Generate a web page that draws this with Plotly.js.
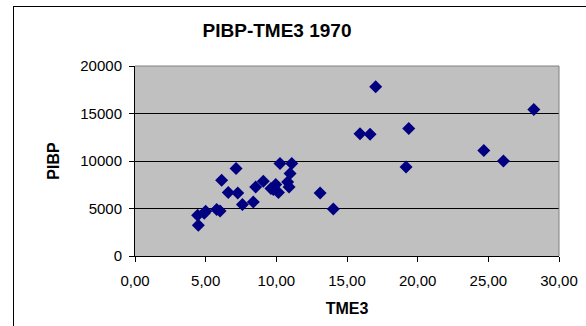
<!DOCTYPE html>
<html>
<head>
<meta charset="utf-8">
<script src="https://cdn.plot.ly/plotly-3.0.1.min.js"></script>
<style>
html,body{margin:0;padding:0;background:#fff;overflow:hidden;}
#chart{position:absolute;left:0;top:0;width:586px;height:326px;}
#frame{position:absolute;left:13px;top:6px;width:600px;height:340px;border:1px solid #000;box-sizing:border-box;pointer-events:none;}
</style>
</head>
<body>
<div id="chart"></div>
<div id="frame"></div>
<script>
const tme3 = [4.48, 4.43, 5.00, 4.90, 5.78, 6.02, 6.13, 6.60, 7.15, 7.27, 7.60, 8.37, 8.54, 9.08, 9.62, 9.79, 9.96, 10.15, 10.26, 11.09, 10.97, 10.80, 10.90, 13.10, 14.03, 15.92, 16.63, 17.03, 19.18, 19.37, 24.68, 26.07, 28.22];
const pibp = [3236, 4290, 4711, 4500, 4890, 4743, 7979, 6682, 9212, 6640, 5418, 5692, 7273, 7873, 7104, 7000, 7525, 6682, 9739, 9739, 8685, 7800, 7273, 6620, 4954, 12859, 12827, 17813, 9381, 13428, 11109, 10013, 15431];
const xTicks = [0, 5, 10, 15, 20, 25, 30];
const xTickLabels = ["0,00", "5,00", "10,00", "15,00", "20,00", "25,00", "30,00"];
const yTicks = [0, 5000, 10000, 15000, 20000];
const yTickLabels = ["0", "5000", "10000", "15000", "20000"];
const chartTitle = "PIBP-TME3 1970";
const xTitle = "TME3";
const yTitle = "PIBP";

const font = "Liberation Sans, Arial, sans-serif";

const trace = {
  x: tme3, y: pibp, type: 'scatter', mode: 'markers',
  marker: {symbol: 'diamond', size: 10, color: '#000080', line: {width: 0}},
  hoverinfo: 'none', cliponaxis: false
};

const layout = {
  width: 586, height: 326,
  margin: {l: 135, r: 27, t: 66, b: 70, pad: 0},
  paper_bgcolor: 'rgba(0,0,0,0)',
  plot_bgcolor: '#c0c0c0',
  showlegend: false,
  font: {family: font, color: '#000', size: 15},
  title: {text: '<b>' + chartTitle + '</b>', font: {family: font, size: 19, color: '#000'},
          x: 0.335, xref: 'paper', xanchor: 'center', y: 1 - 30/326, yref: 'container', yanchor: 'middle'},
  xaxis: {
    range: [0, 30], tickvals: xTicks, ticktext: xTickLabels,
    showgrid: false, zeroline: false, showline: true, linecolor: '#000', linewidth: 1,
    ticks: 'outside', ticklen: 5, tickcolor: '#000', tickwidth: 1,
    ticklabelstandoff: 6,
    tickfont: {family: font, size: 15, color: '#000'},
    title: {text: '<b>' + xTitle + '</b>', font: {family: font, size: 16, color: '#000'}, standoff: 14},
    fixedrange: true
  },
  yaxis: {
    range: [0, 20000], tickvals: yTicks, ticktext: yTickLabels,
    showgrid: true, gridcolor: '#000', gridwidth: 1, zeroline: false,
    showline: true, linecolor: '#000', linewidth: 1,
    ticks: 'outside', ticklen: 5, tickcolor: '#000', tickwidth: 1,
    ticklabelstandoff: 4,
    tickfont: {family: font, size: 15, color: '#000'},
    title: {text: '<b>' + yTitle + '</b>', font: {family: font, size: 16, color: '#000'}, standoff: 16},
    fixedrange: true
  },
  shapes: [
    {type: 'line', xref: 'paper', yref: 'paper', x0: 0, x1: 1, y0: 1, y1: 1, line: {color: '#808080', width: 1}},
    {type: 'line', xref: 'paper', yref: 'paper', x0: 1, x1: 1, y0: 0, y1: 1, line: {color: '#808080', width: 1}}
  ]
};

Plotly.newPlot('chart', [trace], layout, {staticPlot: true, displayModeBar: false});
</script>
</body>
</html>
